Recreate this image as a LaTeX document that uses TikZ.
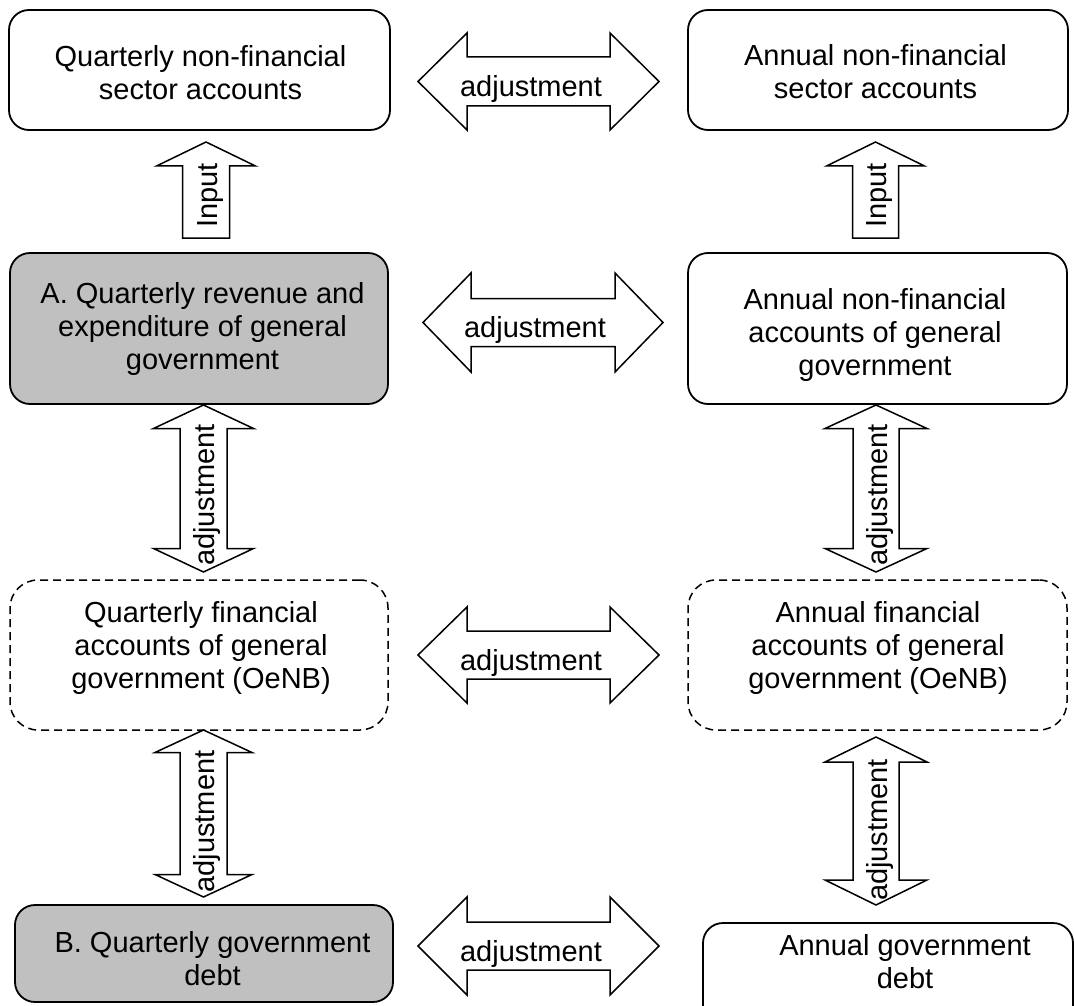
\documentclass[tikz,border=0pt]{standalone}
\usepackage{fontspec}
\setmainfont{Liberation Sans}
\definecolor{boxgray}{RGB}{192,192,192}
% horizontal double block arrow: xL xR cy head-length head-half shaft-half
\newcommand\HDarrow[6]{%
  \draw[blockarrow] (#1,#3) -- ({#1+#4},{#3-#5}) -- ({#1+#4},{#3-#6}) -- ({#2-#4},{#3-#6}) -- ({#2-#4},{#3-#5}) -- (#2,#3)
    -- ({#2-#4},{#3+#5}) -- ({#2-#4},{#3+#6}) -- ({#1+#4},{#3+#6}) -- ({#1+#4},{#3+#5}) -- cycle;}
% vertical double block arrow: cx yTop yBottom head-length head-half shaft-half
\newcommand\VDarrow[6]{%
  \draw[blockarrow] (#1,#2) -- ({#1+#5},{#2+#4}) -- ({#1+#6},{#2+#4}) -- ({#1+#6},{#3-#4}) -- ({#1+#5},{#3-#4}) -- (#1,#3)
    -- ({#1-#5},{#3-#4}) -- ({#1-#6},{#3-#4}) -- ({#1-#6},{#2+#4}) -- ({#1-#5},{#2+#4}) -- cycle;}
% vertical single block arrow pointing up: cx yTip yBottom head-length head-half shaft-half
\newcommand\VSarrow[6]{%
  \draw[blockarrow] (#1,#2) -- ({#1+#5},{#2+#4}) -- ({#1+#6},{#2+#4}) -- ({#1+#6},#3) -- ({#1-#6},#3)
    -- ({#1-#6},{#2+#4}) -- ({#1-#5},{#2+#4}) -- cycle;}
\begin{document}
\begin{tikzpicture}[x=1pt,y=-1pt,
  box/.style={draw=black, line width=1.8pt, rounded corners=20pt, inner sep=0pt, outer sep=0pt},
  greybox/.style={box, fill=boxgray},
  dashbox/.style={draw=black, line width=1.5pt, rounded corners=28pt, inner sep=0pt, outer sep=0pt, dash pattern=on 8pt off 5pt},
  boxtext/.style={font=\fontsize{29}{33}\selectfont, align=center, inner sep=0pt},
  lbl/.style={font=\fontsize{29}{33}\selectfont, inner sep=0pt, anchor=base},
  vlbl/.style={lbl, rotate=90},
  blockarrow/.style={draw=black, fill=white, line width=1.5pt, line join=miter}]
\fill[white] (0,0) rectangle (1074,1006);
\useasboundingbox (0,0) rectangle (1074,1006);

% boxes
\node[box, minimum width=381pt, minimum height=120pt] (qnf) at (199.5,70) {};
\node[box, minimum width=380pt, minimum height=120pt] (anf) at (878,70) {};
\node[greybox, minimum width=378pt, minimum height=151pt] (qre) at (199,328.5) {};
\node[box, minimum width=379pt, minimum height=151pt] (ana) at (877.5,328.5) {};
\node[dashbox, minimum width=378pt, minimum height=150pt] (qfa) at (199,655) {};
\node[dashbox, minimum width=379pt, minimum height=150pt] (afa) at (877.5,655) {};
\node[greybox, minimum width=378pt, minimum height=97pt] (qgd) at (204,953.5) {};
\node[box, minimum width=370pt, minimum height=107pt] (agd) at (888,976.5) {};

% box texts
\node[boxtext] (qnf-t) at (200.5,76.4) {\strut Quarterly non-financial\\sector accounts\strut};
\node[boxtext] (anf-t) at (875.5,75.9) {\strut Annual non-financial\\sector accounts\strut};
\node[boxtext] (qre-t) at (202.5,329.9) {\strut A. Quarterly revenue and\\expenditure of general\\government\strut};
\node[boxtext] (ana-t) at (875,335.9) {\strut Annual non-financial\\accounts of general\\government\strut};
\node[boxtext] (qfa-t) at (201,648.4) {\strut Quarterly financial\\accounts of general\\government (OeNB)\strut};
\node[boxtext] (afa-t) at (878,648.4) {\strut Annual financial\\accounts of general\\government (OeNB)\strut};
\node[boxtext] (qgd-t) at (212.5,961.9) {\strut B. Quarterly government\\debt\strut};
\node[boxtext] (agd-t) at (905,964.9) {\strut Annual government\\debt\strut};

% input arrows
\VSarrow{206}{142}{238}{24}{49.5}{23.5}
\node[vlbl] (in-l) at (217,195.5) {Input};
\VSarrow{875.5}{142}{238}{24}{49}{23}
\node[vlbl] (in-r) at (886.5,195.5) {Input};

% horizontal adjustment arrows
\HDarrow{418}{659}{81.5}{49}{48.5}{24.5}
\node[lbl] (adj-h1) at (531,96.5) {adjustment};
\HDarrow{423}{663}{322.5}{48}{49.5}{24}
\node[lbl] (adj-h2) at (535,337.5) {adjustment};
\HDarrow{418}{659}{655}{49}{48}{24}
\node[lbl] (adj-h3) at (531,670) {adjustment};
\HDarrow{418}{659}{946}{49}{49}{24}
\node[lbl] (adj-h4) at (531,961) {adjustment};

% vertical adjustment arrows
\VDarrow{203.5}{405}{572}{23.5}{50}{23.5}
\node[vlbl] (adj-v1l) at (214,495) {adjustment};
\VDarrow{876}{405}{572}{23.5}{51}{23}
\node[vlbl] (adj-v1r) at (887,495) {adjustment};
\VDarrow{203.5}{730}{897}{22.5}{48.5}{23.5}
\node[vlbl] (adj-v2l) at (214,821.5) {adjustment};
\VDarrow{876}{737}{905}{25}{51}{23}
\node[vlbl] (adj-v2r) at (887,830) {adjustment};
\end{tikzpicture}
\end{document}
